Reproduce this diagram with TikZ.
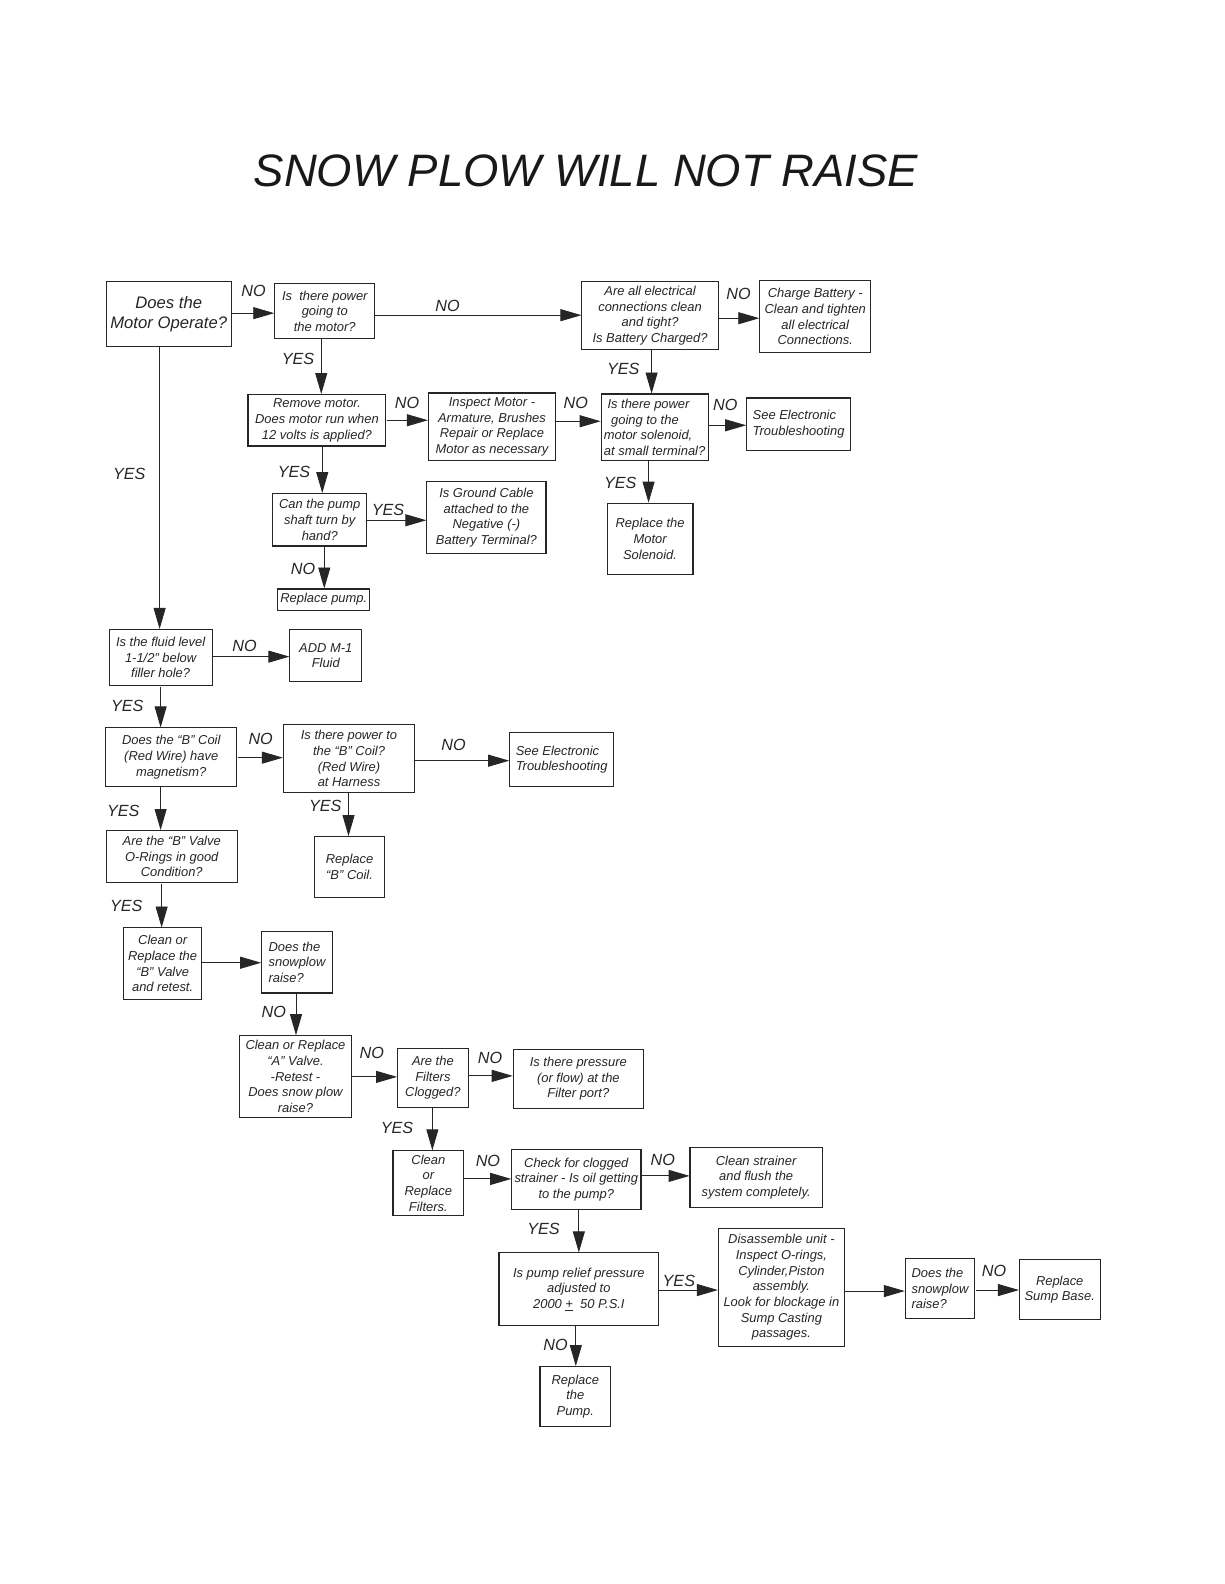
\documentclass[tikz,border=0pt]{standalone}
\usepackage{fontspec}
\setmainfont{Liberation Sans}
\usetikzlibrary{arrows.meta}
\begin{document}
\begin{tikzpicture}[x=1pt,y=-1pt,scale=1.0102,every node/.append style={transform shape},
  box/.style={draw=black!85, line width=1.1pt, inner sep=0pt, align=center,
    font=\fontsize{12.8}{15.5}\selectfont\itshape, text=black!85},
  lbox/.style={box, align=left},
  arr/.style={draw=black!85, line width=0.9pt, -{Triangle[length=21pt,width=12pt]}},
  lab/.style={font=\fontsize{16}{16}\selectfont\itshape, text=black!85, inner sep=0pt}]
\useasboundingbox (0,0) rectangle (1211.64,1568);
\fill[white] (0,0) rectangle (1211.64,1568);

\node[font=\fontsize{45}{45}\selectfont\itshape, text=black!90, inner sep=0pt] (title) at (580,169) {SNOW PLOW WILL NOT RAISE};

% boxes
\node[box, minimum width=124pt, minimum height=64pt, font=\fontsize{16.5}{19}\selectfont\itshape] (m1) at (167,311) {Does the\\Motor Operate?};
\node[box, minimum width=99pt, minimum height=54pt] (m2) at (321.5,308) {Is\ \ there power\\going to\\the motor?};
\node[box, minimum width=135pt, minimum height=67pt] (m3) at (643.5,312.5) {Are all electrical\\connections clean\\and tight?\\Is Battery Charged?};
\node[box, minimum width=110pt, minimum height=71pt] (m4) at (807,313.5) {Charge Battery -\\Clean and tighten\\all electrical\\Connections.};
\node[box, minimum width=136.5pt, minimum height=51pt] (m5) at (313.75,416) {Remove motor.\\Does motor run when\\12 volts is applied?};
\node[box, minimum width=126pt, minimum height=67pt] (m6) at (487,422.5) {Inspect Motor -\\Armature, Brushes\\Repair or Replace\\Motor as necessary};
\node[lbox, minimum width=106pt, minimum height=66pt] (m7) at (648,423) {\ Is there power\\\ \ going to the\\motor solenoid,\\at small terminal?};
\node[lbox, minimum width=103pt, minimum height=52pt] (m8) at (790.5,420) {See Electronic\\Troubleshooting};
\node[box, minimum width=93pt, minimum height=52pt] (m9) at (316.5,514.5) {Can the pump\\shaft turn by\\hand?};
\node[box, minimum width=118pt, minimum height=71pt] (m10) at (481.5,512.5) {Is Ground Cable\\attached to the\\Negative (-)\\Battery Terminal?};
\node[box, minimum width=91pt, minimum height=21pt] (m11) at (320.5,593.5) {Replace pump.};
\node[box, minimum width=85pt, minimum height=71pt] (m12) at (643.5,533.5) {Replace the\\Motor\\Solenoid.};
\node[box, minimum width=102pt, minimum height=56pt] (m13) at (159,651) {Is the fluid level\\1-1/2” below\\filler hole?};
\node[box, minimum width=71pt, minimum height=51pt] (m14) at (322.5,649) {ADD M-1\\Fluid};
\node[box, minimum width=130pt, minimum height=58pt] (m15) at (169.5,749.5) {Does the “B” Coil\\(Red Wire) have\\magnetism?};
\node[box, minimum width=130pt, minimum height=67pt] (m16) at (345.5,751) {Is there power to\\the “B” Coil?\\(Red Wire)\\at Harness};
\node[lbox, minimum width=103pt, minimum height=53pt] (m17) at (556,752) {See Electronic\\Troubleshooting};
\node[box, minimum width=130pt, minimum height=52pt] (m18) at (170,848) {Are the “B” Valve\\O-Rings in good\\Condition?};
\node[box, minimum width=70pt, minimum height=60pt] (m19) at (346,858) {Replace\\“B” Coil.};
\node[box, minimum width=77pt, minimum height=71pt] (m20) at (161,954) {Clean or\\Replace the\\“B” Valve\\and retest.};
\node[lbox, minimum width=70pt, minimum height=61pt] (m21) at (294,952.5) {Does the\\snowplow\\raise?};
\node[box, minimum width=111pt, minimum height=81pt] (m22) at (292.5,1065.5) {Clean or Replace\\“A” Valve.\\-Retest -\\Does snow plow\\raise?};
\node[box, minimum width=70pt, minimum height=58pt] (m23) at (428.5,1067) {Are the\\Filters\\Clogged?};
\node[box, minimum width=129pt, minimum height=58pt] (m24) at (572.5,1068) {Is there pressure\\(or flow) at the\\Filter port?};
\node[box, minimum width=70pt, minimum height=64pt] (m25) at (424,1171) {Clean\\or\\Replace\\Filters.};
\node[box, minimum width=128pt, minimum height=59pt] (m26) at (570.5,1167.5) {Check for clogged\\strainer - Is oil getting\\to the pump?};
\node[box, minimum width=131pt, minimum height=60pt] (m27) at (748.5,1165.5) {Clean strainer\\and flush the\\system completely.};
\node[box, minimum width=158pt, minimum height=72pt] (m28) at (573,1276) {Is pump relief pressure\\adjusted to\\2000 \underline{+}\ \ 50 P.S.I};
\node[box, minimum width=125pt, minimum height=117pt] (m29) at (773.5,1274.5) {Disassemble unit -\\Inspect O-rings,\\Cylinder,Piston\\assembly.\\Look for blockage in\\Sump Casting\\passages.};
\node[lbox, minimum width=69pt, minimum height=59pt] (m30) at (930.5,1275.5) {Does the\\snowplow\\raise?};
\node[box, minimum width=80pt, minimum height=59pt] (m31) at (1049,1276.5) {Replace\\Sump Base.};
\node[box, minimum width=70pt, minimum height=60pt] (m32) at (569.5,1382.5) {Replace\\the\\Pump.};

% horizontal connectors
\draw[arr] (m1.east |- {(0,310)}) -- (m2.west |- {(0,310)});
\draw[arr] (m2.east |- {(0,312)}) -- (m3.west |- {(0,312)});
\draw[arr] (m3.east |- {(0,315)}) -- (m4.west |- {(0,315)});
\draw[arr] (m5.east |- {(0,416)}) -- (m6.west |- {(0,416)});
\draw[arr] (m6.east |- {(0,417)}) -- (m7.west |- {(0,417)});
\draw[arr] (m7.east |- {(0,421)}) -- (m8.west |- {(0,421)});
\draw[arr] (m9.east |- {(0,515)}) -- (m10.west |- {(0,515)});
\draw[arr] (m13.east |- {(0,650)}) -- (m14.west |- {(0,650)});
\draw[arr] (m15.east |- {(0,750)}) -- (m16.west |- {(0,750)});
\draw[arr] (m16.east |- {(0,753)}) -- (m17.west |- {(0,753)});
\draw[arr] (m20.east |- {(0,953)}) -- (m21.west |- {(0,953)});
\draw[arr] (m22.east |- {(0,1066)}) -- (m23.west |- {(0,1066)});
\draw[arr] (m23.east |- {(0,1065)}) -- (m24.west |- {(0,1065)});
\draw[arr] (m25.east |- {(0,1167)}) -- (m26.west |- {(0,1167)});
\draw[arr] (m26.east |- {(0,1164)}) -- (m27.west |- {(0,1164)});
\draw[arr] (m28.east |- {(0,1277)}) -- (m29.west |- {(0,1277)});
\draw[arr] (m29.east |- {(0,1278)}) -- (m30.west |- {(0,1278)});
\draw[arr] (m30.east |- {(0,1277)}) -- (m31.west |- {(0,1277)});

% vertical connectors
\draw[arr] (m2.south -| {(318,0)}) -- (m5.north -| {(318,0)});
\draw[arr] (m3.south -| {(645,0)}) -- (m7.north -| {(645,0)});
\draw[arr] (m5.south -| {(319,0)}) -- (m9.north -| {(319,0)});
\draw[arr] (m9.south -| {(321,0)}) -- (m11.north -| {(321,0)});
\draw[arr] (m7.south -| {(642,0)}) -- (m12.north -| {(642,0)});
\draw[arr] (m1.south -| {(158,0)}) -- (m13.north -| {(158,0)});
\draw[arr] (m13.south -| {(159,0)}) -- (m15.north -| {(159,0)});
\draw[arr] (m16.south -| {(345,0)}) -- (m19.north -| {(345,0)});
\draw[arr] (m15.south -| {(159,0)}) -- (m18.north -| {(159,0)});
\draw[arr] (m18.south -| {(160,0)}) -- (m20.north -| {(160,0)});
\draw[arr] (m21.south -| {(293,0)}) -- (m22.north -| {(293,0)});
\draw[arr] (m23.south -| {(428,0)}) -- (m25.north -| {(428,0)});
\draw[arr] (m26.south -| {(573,0)}) -- (m28.north -| {(573,0)});
\draw[arr] (m28.south -| {(570,0)}) -- (m32.north -| {(570,0)});

% labels
\node[lab] (l1) at (251,288) {NO};
\node[lab] (l2) at (443,303) {NO};
\node[lab] (l3) at (731,291) {NO};
\node[lab] (l4) at (295,355) {YES};
\node[lab] (l5) at (403,399) {NO};
\node[lab] (l6) at (570,399) {NO};
\node[lab] (l7) at (617,365) {YES};
\node[lab] (l8) at (718,401) {NO};
\node[lab] (l9) at (291,467) {YES};
\node[lab] (l10) at (384,505) {YES};
\node[lab] (l11) at (300,563) {NO};
\node[lab] (l12) at (614,478) {YES};
\node[lab] (l13) at (128,469) {YES};
\node[lab] (l14) at (242,639) {NO};
\node[lab] (l15) at (126,699) {YES};
\node[lab] (l16) at (258,731) {NO};
\node[lab] (l17) at (449,737) {NO};
\node[lab] (l18) at (322,798) {YES};
\node[lab] (l19) at (122,803) {YES};
\node[lab] (l20) at (125,897) {YES};
\node[lab] (l21) at (271,1002) {NO};
\node[lab] (l22) at (368,1042) {NO};
\node[lab] (l23) at (485,1047) {NO};
\node[lab] (l24) at (393,1117) {YES};
\node[lab] (l25) at (483,1149) {NO};
\node[lab] (l26) at (656,1148) {NO};
\node[lab] (l27) at (538,1217) {YES};
\node[lab] (l28) at (672,1268) {YES};
\node[lab] (l29) at (550,1331) {NO};
\node[lab] (l30) at (984,1258) {NO};
\end{tikzpicture}
\end{document}
